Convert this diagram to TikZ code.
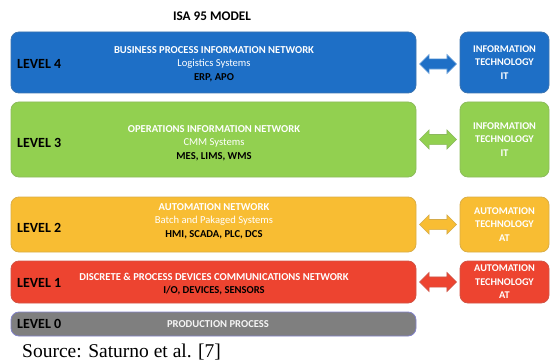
\documentclass[tikz,border=0pt]{standalone}
\usepackage{fontspec}
\setmainfont{Carlito}
\newfontfamily\srcfont{Liberation Serif}
\usetikzlibrary{shapes.arrows,calc}
\definecolor{cblue}{RGB}{30,111,198}
\definecolor{cgreen}{RGB}{146,208,80}
\definecolor{cyellow}{RGB}{248,189,51}
\definecolor{cred}{RGB}{237,68,48}
\definecolor{cgrey}{RGB}{127,127,127}
\begin{document}
\begin{tikzpicture}[x=1pt,y=1pt,
  lvbox/.style={rectangle, rounded corners=8pt, line width=0.8pt, inner sep=0pt, minimum width=405pt},
  techbox/.style={rectangle, rounded corners=8pt, line width=0.8pt, inner sep=0pt, minimum width=89pt,
     text=white, align=center, font=\fontsize{10.3}{13.5}\selectfont\bfseries},
  boxtext/.style={align=center, inner sep=0pt, font=\fontsize{10.6}{13.5}\selectfont},
  lvlabel/.style={anchor=west, inner sep=0pt, font=\fontsize{14}{16}\selectfont\bfseries},
  darr/.style={double arrow, double arrow head extend=4.5pt, minimum height=37pt,
     inner sep=0pt, line width=0.6pt}
]
\useasboundingbox (0,0) rectangle (552,-361);

\node[font=\fontsize{13.2}{15}\selectfont\bfseries] (title) at (212,-16) {ISA 95 MODEL};

% level boxes
\node[lvbox, fill=cblue, draw=cblue!70!gray, minimum height=61pt] (l4) at (213.5,-62.5) {};
\node[lvbox, fill=cgreen, draw=cgreen!75!gray, minimum height=75pt] (l3) at (213.5,-139.5) {};
\node[lvbox, fill=cyellow, draw=cyellow!75!gray, minimum height=55pt] (l2) at (213.5,-224.5) {};
\node[lvbox, fill=cred, draw=cred!75!gray, minimum height=42pt] (l1) at (213.5,-282) {};
\node[lvbox, fill=cgrey, draw=cgrey!60!blue!70!white, minimum height=24pt] (l0) at (213.5,-324) {};

% technology boxes
\node[techbox, fill=cblue, draw=cblue!70!gray, minimum height=61pt] (r4) at (504.5,-62.5)
  {INFORMATION\\TECHNOLOGY\\IT};
\node[techbox, fill=cgreen, draw=cgreen!75!gray, minimum height=75pt] (r3) at (504.5,-139.5)
  {INFORMATION\\TECHNOLOGY\\IT};
\node[techbox, fill=cyellow, draw=cyellow!75!gray, minimum height=55pt] (r2) at (504.5,-224.5)
  {AUTOMATION\\TECHNOLOGY\\AT};
\node[techbox, fill=cred, draw=cred!75!gray, minimum height=42pt] (r1) at (504.5,-282)
  {AUTOMATION\\TECHNOLOGY\\AT};

% level labels
\node[lvlabel] (n4) at (17,-64) {LEVEL 4};
\node[lvlabel] (n3) at (17,-143) {LEVEL 3};
\node[lvlabel] (n2) at (17,-228) {LEVEL 2};
\node[lvlabel] (n1) at (17,-283) {LEVEL 1};
\node[lvlabel] (n0) at (17,-324) {LEVEL 0};

% box texts
\node[boxtext] (t4) at (214,-64)
  {\textcolor{white}{\bfseries BUSINESS PROCESS INFORMATION NETWORK}\\
   \textcolor{white}{Logistics Systems}\\
   \textcolor{black}{\bfseries ERP, APO}};
\node[boxtext] (t3) at (214,-143)
  {\textcolor{white}{\bfseries OPERATIONS INFORMATION NETWORK}\\
   \textcolor{white}{CMM Systems}\\
   \textcolor{black}{\bfseries MES, LIMS, WMS}};
\node[boxtext] (t2) at (214,-221)
  {\textcolor{white}{\bfseries AUTOMATION NETWORK}\\
   \textcolor{white}{Batch and Pakaged Systems}\\
   \textcolor{black}{\bfseries HMI, SCADA, PLC, DCS}};
\node[boxtext] (t1) at (214,-284)
  {\textcolor{white}{\bfseries DISCRETE \& PROCESS DEVICES COMMUNICATIONS NETWORK}\\
   \textcolor{black}{\bfseries I/O, DEVICES, SENSORS}};
\node[boxtext, text=white!92!gray] (t0) at (218,-324) {\bfseries PRODUCTION PROCESS};

% double arrows
\node[darr, fill=cblue, draw=cblue!60!white] (a4) at ($(l4.east)!0.5!(r4.west)+(0,-1.5)$) {\rule{0pt}{9.5pt}};
\node[darr, fill=cgreen, draw=cgreen!70!gray] (a3) at ($(l3.east)!0.5!(r3.west)$) {\rule{0pt}{9.5pt}};
\node[darr, fill=cyellow, draw=cyellow!70!gray] (a2) at ($(l2.east)!0.5!(r2.west)$) {\rule{0pt}{9.5pt}};
\node[darr, fill=cred, draw=cred!70!gray] (a1) at ($(l1.east)!0.5!(r1.west)$) {\rule{0pt}{9.5pt}};

% source
\node[anchor=base west, inner sep=0pt, font=\srcfont\fontsize{19.5}{22}\selectfont] (src) at (22,-357)
  {Source: Saturno et al. [7]};
\end{tikzpicture}
\end{document}
